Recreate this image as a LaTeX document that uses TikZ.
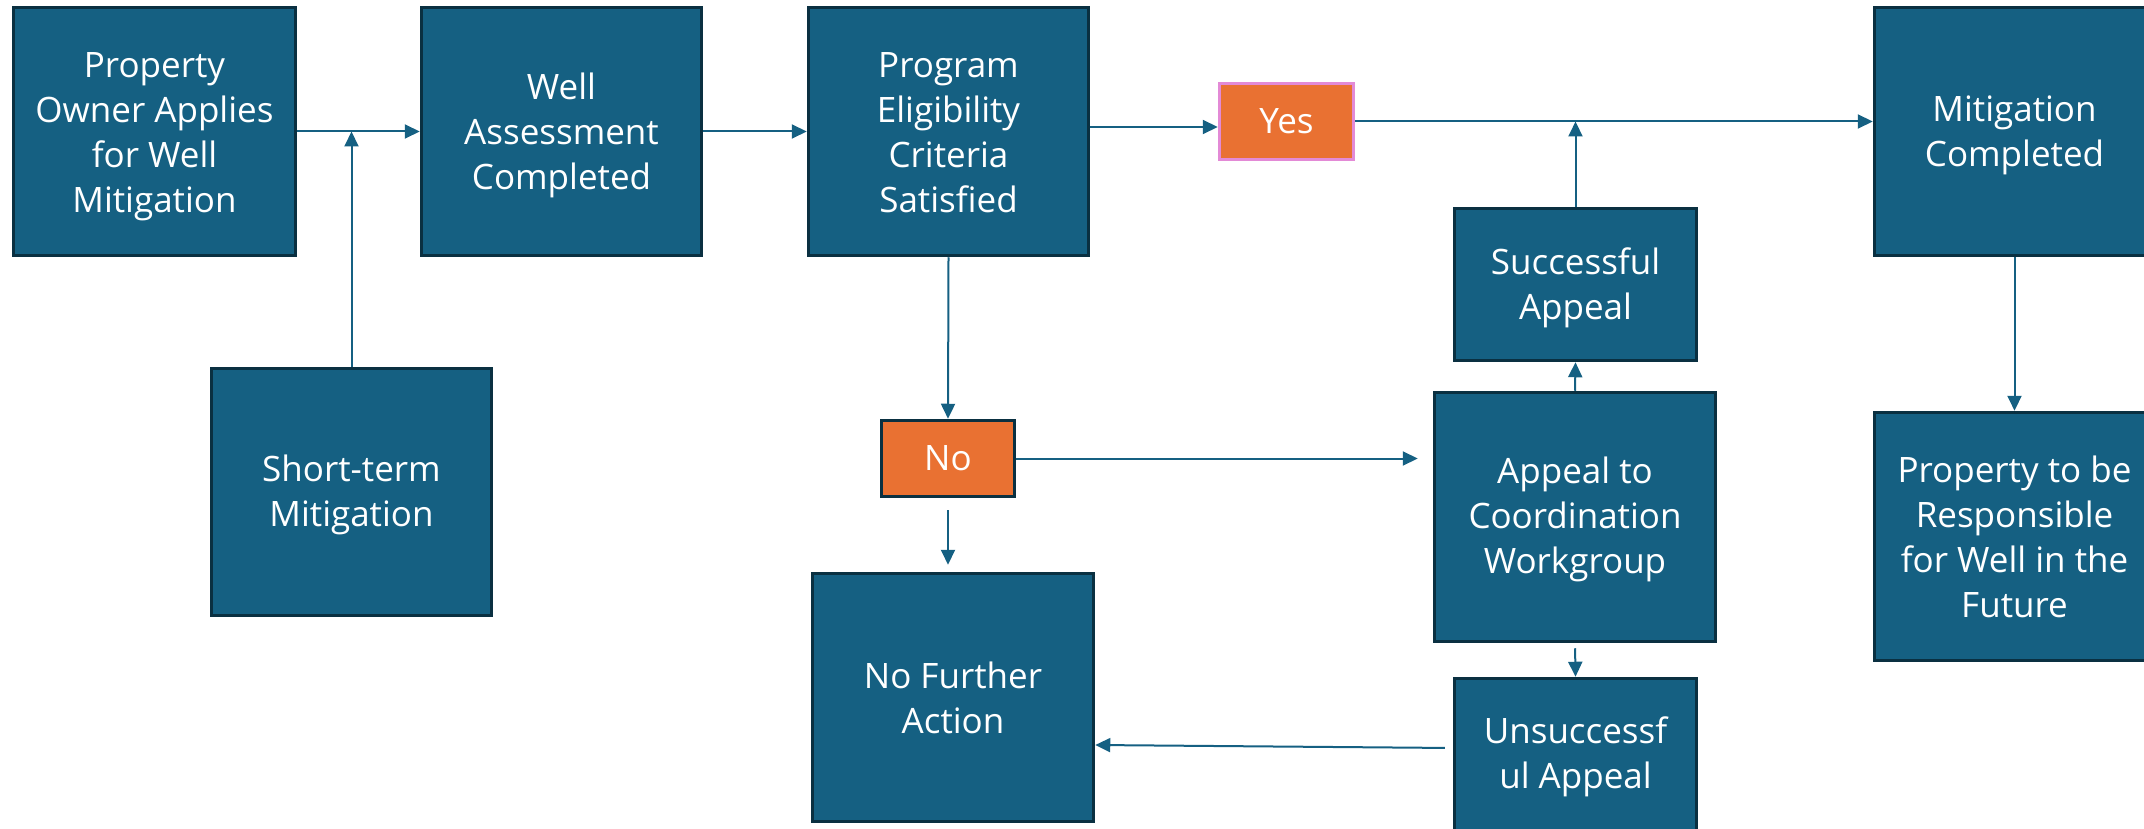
\documentclass[tikz,border=0pt]{standalone}
\usepackage{fontspec}
\setmainfont{Open Sans}
\usetikzlibrary{arrows.meta,calc}
\definecolor{boxfill}{HTML}{156082}
\definecolor{boxline}{HTML}{0A3041}
\definecolor{orangefill}{HTML}{E97132}
\definecolor{pinkline}{HTML}{E38AD6}
\definecolor{conn}{HTML}{156082}
\newcommand\flowbox[7]{%
  \node[bluebox,minimum width=#4,minimum height=#5] (#1) at (#2,#3) {};
  \node[boxtext] (#1-t) at ([yshift=#6]#1.center) {#7};}
\begin{document}
\begin{tikzpicture}[x=1pt,y=1pt,
  bluebox/.style={draw=boxline,line width=3.5pt,fill=boxfill,inner sep=0pt},
  boxtext/.style={text=white,align=center,inner sep=0pt,font=\fontsize{35}{45}\selectfont},
  orangebox/.style={fill=orangefill,text=white,align=center,inner sep=0pt,
    font=\fontsize{35}{45}\selectfont},
  conarrow/.style={draw=conn,line width=2pt,-{Triangle[length=15pt,width=14pt]}}
]
\useasboundingbox (0,0) rectangle (2144,-829);
\flowbox{A}{154.5}{-131.5}{282pt}{248pt}{-5pt}{Property\\Owner Applies\\for Well\\Mitigation}
\flowbox{B}{561.5}{-131.5}{280pt}{248pt}{-4pt}{Well\\Assessment\\Completed}
\flowbox{C}{948.5}{-131.5}{280pt}{248pt}{-1pt}{Program\\Eligibility\\Criteria\\Satisfied}
\node[orangebox,draw=pinkline,line width=3.5pt,minimum width=134pt,minimum height=76pt] (Y) at (1286.5,-121.5) {Yes};
\flowbox{MC}{2014.5}{-131.5}{280pt}{248pt}{-4pt}{Mitigation\\Completed}
\flowbox{ST}{351.5}{-492}{280pt}{247pt}{-3pt}{Short-term\\Mitigation}
\flowbox{SA}{1575.5}{-284.5}{242pt}{152pt}{-3pt}{Successful\\Appeal}
\flowbox{AC}{1575}{-517}{281pt}{249pt}{-2pt}{Appeal to\\Coordination\\Workgroup}
\flowbox{UA}{1575.5}{-754.5}{242pt}{152pt}{-2pt}{Unsuccessf\\ul Appeal}
\node[orangebox,draw=boxline,line width=3.5pt,minimum width=133pt,minimum height=76pt] (N) at (948,-458.5) {No};
\flowbox{NFA}{953}{-697.5}{281pt}{248pt}{0pt}{No Further\\Action}
\flowbox{PR}{2014.5}{-536.5}{280pt}{248pt}{0pt}{Property to be\\Responsible\\for Well in the\\Future}
\coordinate (ya) at (0,-127);
\coordinate (ua) at (0,-748);
\coordinate (ub) at (0,-745);
\coordinate (j1) at (ST.north |- A.east);
\coordinate (j2) at (SA.north |- Y.east);
\draw[conarrow] (A.east) -- (B.west);
\draw[conarrow] (ST.north) -- (j1);
\draw[conarrow] (B.east) -- (C.west);
\draw[conarrow] (C.east |- ya) -- (Y.west |- ya);
\draw[conarrow] (Y.east) -- (Y.east -| MC.west);
\draw[conarrow] (SA.north) -- (j2);
\draw[conarrow] (C.south) -- (N.north);
\draw[conarrow,shorten >=15pt] (N.east) -- (N.east -| AC.west);
\draw[conarrow,shorten <=12pt,shorten >=7pt] (N.south) -- (N.south |- NFA.north);
\draw[conarrow] (AC.north) -- (SA.south);
\draw[conarrow,shorten <=5pt] (AC.south) -- (UA.north);
\draw[conarrow,shorten <=8pt] (UA.west |- ua) -- (NFA.east |- ub);
\draw[conarrow] (MC.south) -- (PR.north);
\end{tikzpicture}
\end{document}
